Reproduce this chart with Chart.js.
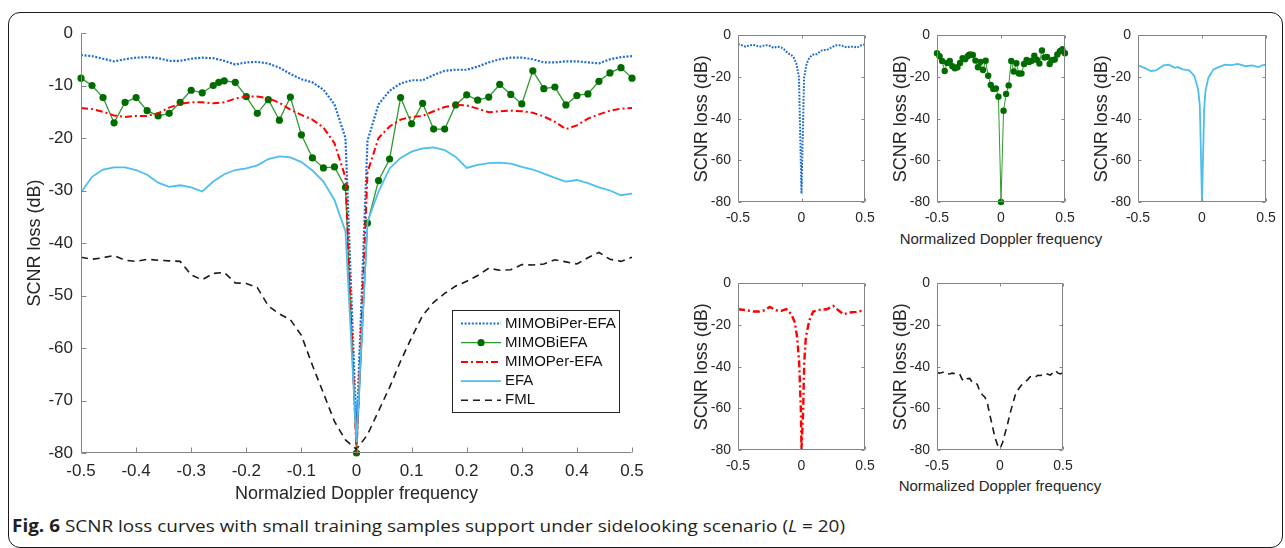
<!DOCTYPE html>
<html>
<head>
<meta charset="utf-8">
<title>SCNR loss curves</title>
<script src="https://cdn.jsdelivr.net/npm/chart.js@4.4.0/dist/chart.umd.min.js"></script>
<style>
  body { margin: 0; background: #fff; width: 1285px; height: 548px; position: relative; overflow: hidden; }
  #frame { position: absolute; left: 8px; top: 12px; width: 1275px; height: 536px; border: 1.5px solid #1a1a1a; border-radius: 12px; box-sizing: border-box; }
  canvas { position: absolute; }
  .xlab { position: absolute; width: 300px; text-align: center; font-family: 'Liberation Sans', Arial, sans-serif; font-size: 15px; line-height: 18px; color: #262626; white-space: nowrap; }
  #caption { position: absolute; left: 12px; top: 515px; font-family: 'Open Sans', sans-serif; font-size: 17px; line-height: 22px; color: #231f20; white-space: nowrap; transform-origin: 0 0; }
</style>
</head>
<body>
<div id="frame"></div>
<div class="xlab" style="left:851px; top:230px;">Normalized Doppler frequency</div>
<div class="xlab" style="left:850px; top:477px;">Normalized Doppler frequency</div>
<div id="caption"><b>Fig. 6</b> SCNR loss curves with small training samples support under sidelooking scenario (<i>L</i> = 20)</div>

<script>
  // tick values and labels
  const mainXTicks = [-0.5, -0.4, -0.3, -0.2, -0.1, 0, 0.1, 0.2, 0.3, 0.4, 0.5];
  const mainXLabels = ['-0.5', '-0.4', '-0.3', '-0.2', '-0.1', '0', '0.1', '0.2', '0.3', '0.4', '0.5'];
  const mainYTicks = [0, -10, -20, -30, -40, -50, -60, -70, -80];
  const mainYLabels = ['0', '-10', '-20', '-30', '-40', '-50', '-60', '-70', '-80'];
  const smallXTicks = [-0.5, 0, 0.5];
  const smallXLabels = ['-0.5', '0', '0.5'];
  const smallYTicks = [0, -20, -40, -60, -80];
  const smallYLabels = ['0', '-20', '-40', '-60', '-80'];

  const seriesNames = ['MIMOBiPer-EFA', 'MIMOBiEFA', 'MIMOPer-EFA', 'EFA', 'FML'];

  // normalized doppler frequency grid of the main curves
  const freq = [-0.5, -0.48, -0.46, -0.44, -0.42, -0.4, -0.38, -0.36, -0.34, -0.32,
    -0.3, -0.28, -0.26, -0.24, -0.22, -0.2, -0.18, -0.16, -0.14, -0.12,
    -0.1, -0.08, -0.06, -0.04, -0.02, 0, 0.02, 0.04, 0.06, 0.08,
    0.1, 0.12, 0.14, 0.16, 0.18, 0.2, 0.22, 0.24, 0.26, 0.28,
    0.3, 0.32, 0.34, 0.36, 0.38, 0.4, 0.42, 0.44, 0.46, 0.48, 0.5];

  const biPerEfa = [-4.2, -4.4, -4.9, -5.4, -5.0, -4.7, -4.6, -4.8, -5.3, -5.3,
    -4.9, -4.7, -4.8, -5.3, -6.0, -5.6, -5.5, -5.8, -6.6, -7.8,
    -8.8, -9.4, -10.8, -13.6, -20.0, -76, -20.5, -13.6, -11.0, -9.6,
    -9.0, -9.0, -8.0, -7.2, -7.0, -7.0, -6.4, -5.6, -5.0, -4.7,
    -4.7, -5.0, -5.6, -5.6, -5.4, -5.4, -5.6, -5.8, -5.0, -4.6, -4.4];

  const perEfa = [-14.3, -14.5, -15.0, -15.7, -16.0, -15.8, -15.8, -15.3, -14.2, -13.5,
    -13.2, -13.2, -13.4, -13.2, -12.5, -12.1, -12.1, -12.4, -13.3, -14.6,
    -15.6, -16.5, -18.0, -21.0, -27.5, -80, -26.5, -20.0, -17.8, -16.5,
    -16.0, -15.8, -14.9, -14.1, -13.7, -13.8, -14.4, -15.1, -14.9, -14.8,
    -14.9, -15.2, -15.9, -16.9, -18.3, -17.6, -16.3, -15.5, -14.8, -14.4, -14.3];

  const efa = [-30.4, -27.4, -26.0, -25.6, -25.6, -26.1, -27.0, -28.5, -29.3, -29.0,
    -29.4, -30.2, -28.3, -26.9, -26.1, -25.8, -25.2, -24.0, -23.5, -23.7,
    -24.6, -26.2, -28.3, -31.8, -37.8, -78, -36.0, -30.2, -25.8, -23.8,
    -22.6, -22.0, -21.8, -22.3, -23.6, -25.7, -25.1, -24.8, -24.7, -24.9,
    -25.5, -26.0, -26.8, -27.6, -28.3, -28.0, -28.6, -29.4, -30.0, -30.9, -30.6];

  const fml = [-42.7, -43.1, -42.8, -42.4, -43.3, -43.5, -43.1, -43.3, -43.4, -43.5,
    -46.1, -47.0, -45.8, -45.6, -47.6, -47.7, -48.5, -52.0, -53.5, -54.6,
    -57.6, -63.3, -68.6, -74.0, -77.5, -79.3, -76.5, -72.0, -67.5, -62.5,
    -58.0, -53.8, -51.3, -49.6, -48.2, -47.3, -46.2, -44.8, -45.2, -45.1,
    -44.1, -44.2, -44.0, -43.2, -43.6, -44.0, -42.8, -41.8, -43.1, -43.5, -42.7];

  // MIMOBiEFA markers
  const biEfaFreq = [-0.5, -0.48, -0.46, -0.44, -0.42, -0.4, -0.38, -0.36, -0.34, -0.32,
    -0.3, -0.28, -0.26, -0.25, -0.24, -0.22, -0.2, -0.18, -0.16, -0.14,
    -0.12, -0.1, -0.08, -0.06, -0.04, -0.02, 0, 0.02, 0.04, 0.06,
    0.08, 0.1, 0.12, 0.14, 0.16, 0.18, 0.2, 0.22, 0.24, 0.26,
    0.28, 0.3, 0.32, 0.34, 0.36, 0.38, 0.4, 0.42, 0.44, 0.46, 0.48, 0.5];
  const biEfa = [-8.6, -10.0, -12.3, -17.1, -13.2, -12.3, -14.8, -15.8, -15.3, -13.2,
    -10.9, -11.4, -10.0, -9.4, -9.1, -9.4, -12.1, -15.3, -12.7, -16.6,
    -12.2, -19.4, -23.8, -25.7, -25.5, -29.4, -80, -36.2, -28.1, -24.0,
    -12.3, -17.3, -13.4, -18.3, -18.3, -13.7, -11.8, -12.8, -12.2, -9.8,
    -11.7, -13.5, -7.2, -10.6, -10.3, -13.7, -11.9, -11.6, -9.2, -7.6, -6.6, -8.6];

  // small EFA panel
  const efaSmallFreq = [-0.5, -0.45, -0.4, -0.36, -0.3, -0.26, -0.21, -0.19, -0.15, -0.1,
    -0.06, -0.03, -0.017, 0, 0.017, 0.027, 0.05, 0.09, 0.13, 0.18,
    0.23, 0.28, 0.34, 0.39, 0.44, 0.47, 0.5];
  const efaSmall = [-14.4, -15.6, -17.1, -16.8, -14.4, -14.1, -15.6, -15.2, -16.3, -16.8,
    -19.5, -25.9, -33.8, -79.8, -35.4, -26.7, -20.3, -16.3, -15.2, -14.0,
    -14.3, -13.7, -14.8, -14.4, -15.2, -14.4, -14.0];

  // small MIMOPer-EFA panel
  const perEfaSmallFreq = [-0.5, -0.43, -0.38, -0.33, -0.29, -0.25, -0.2, -0.16, -0.12, -0.08,
    -0.053, -0.034, -0.018, -0.005, 0, 0.013, 0.021, 0.034, 0.061, 0.092,
    0.145, 0.2, 0.25, 0.29, 0.33, 0.38, 0.43, 0.5];
  const perEfaSmall = [-12.4, -12.9, -13.5, -13.5, -12.9, -11.3, -12.9, -13.2, -12.4, -14.8,
    -18.7, -25.9, -38.6, -60.8, -80, -60.8, -38.6, -25.9, -17.9, -13.5,
    -12.7, -12.4, -10.8, -12.9, -14.8, -14.0, -13.7, -12.9];

  const FONT = "'Liberation Sans', Arial, Helvetica, sans-serif";
  const TEXT = '#262626';
  const AXIS = '#858585';

  function pts(xs, ys) {
    return xs.map((v, i) => ({ x: v, y: ys[i] }));
  }

  const look = {
    biPer: { borderColor: '#1c6ed3', borderWidth: 2.2, borderDash: [2, 1.6], pointRadius: 0, order: 5 },
    bi: { borderColor: '#2e9a2e', borderWidth: 1.3, pointRadius: 3.6, pointBackgroundColor: '#006c00', pointBorderColor: '#006c00', pointBorderWidth: 0, clip: false, order: 4 },
    per: { borderColor: '#ff0000', borderWidth: 2, borderDash: [7, 3, 2, 3], pointRadius: 0, order: 3 },
    efa: { borderColor: '#4dbeee', borderWidth: 1.8, pointRadius: 0, order: 2 },
    fml: { borderColor: '#1a1a1a', borderWidth: 1.6, borderDash: [7, 5], pointRadius: 0, order: 1 }
  };

  // axis lines and inward tick marks, matlab style
  const axesDecor = {
    id: 'axesDecor',
    afterDatasetsDraw(chart, args, o) {
      const { ctx, chartArea: a, scales: { x, y } } = chart;
      ctx.save();
      ctx.strokeStyle = AXIS;
      ctx.lineWidth = 1;
      ctx.setLineDash([]);
      ctx.beginPath();
      const L = Math.round(a.left) + 0.5, R = Math.round(a.right) - 0.5;
      const T = Math.round(a.top) + 0.5, B = Math.round(a.bottom) - 0.5;
      ctx.moveTo(L, T); ctx.lineTo(L, B); ctx.lineTo(R, B);
      if (o.box) { ctx.lineTo(R, T); ctx.lineTo(L, T); }
      x.ticks.forEach(t => {
        const px = Math.round(x.getPixelForValue(t.value)) + 0.5;
        ctx.moveTo(px, B); ctx.lineTo(px, B - o.len);
        if (o.box) { ctx.moveTo(px, T); ctx.lineTo(px, T + o.len); }
      });
      y.ticks.forEach(t => {
        const py = Math.round(y.getPixelForValue(t.value)) + 0.5;
        ctx.moveTo(L, py); ctx.lineTo(L + o.len, py);
        if (o.box) { ctx.moveTo(R, py); ctx.lineTo(R - o.len, py); }
      });
      ctx.stroke();
      ctx.restore();
    }
  };

  const legendBox = {
    id: 'legendBox',
    afterDraw(chart, args, o) {
      if (!o.show) return;
      const ctx = chart.ctx;
      ctx.save();
      ctx.fillStyle = '#fff';
      ctx.fillRect(o.x, o.y, o.w, o.h);
      ctx.strokeStyle = '#222';
      ctx.lineWidth = 1;
      ctx.strokeRect(o.x + 0.5, o.y + 0.5, o.w, o.h);
      chart.data.datasets.forEach((ds, i) => {
        const yy = o.y + o.first + i * o.step;
        ctx.beginPath();
        ctx.setLineDash(ds.borderDash || []);
        ctx.strokeStyle = ds.borderColor;
        ctx.lineWidth = ds.borderWidth;
        ctx.moveTo(o.x + 9, yy);
        ctx.lineTo(o.x + 49, yy);
        ctx.stroke();
        if (ds.pointRadius > 0) {
          ctx.setLineDash([]);
          ctx.fillStyle = ds.pointBackgroundColor;
          ctx.beginPath();
          ctx.arc(o.x + 29, yy, ds.pointRadius, 0, Math.PI * 2);
          ctx.fill();
        }
        ctx.fillStyle = '#111';
        ctx.font = '15px ' + FONT;
        ctx.textBaseline = 'middle';
        ctx.fillText(ds.label, o.x + 53, yy);
      });
      ctx.restore();
    }
  };

  function addChart(p) {
    const cv = document.createElement('canvas');
    const w = p.plot.r - p.plot.l + p.yW + p.padR;
    const h = p.plot.b - p.plot.t + p.padT + p.xH;
    cv.width = w; cv.height = h;
    cv.style.left = (p.plot.l - p.yW) + 'px';
    cv.style.top = (p.plot.t - p.padT) + 'px';
    cv.style.width = w + 'px'; cv.style.height = h + 'px';
    document.body.appendChild(cv);

    return new Chart(cv, {
      type: 'line',
      data: { datasets: p.datasets },
      options: {
        responsive: false,
        animation: false,
        layout: { padding: { top: p.padT, right: p.padR, left: 0, bottom: 0 } },
        elements: { line: { tension: 0 } },
        plugins: {
          legend: { display: false },
          tooltip: { enabled: false },
          axesDecor: { box: p.box, len: p.tickLen },
          legendBox: p.legend || { show: false }
        },
        scales: {
          x: {
            type: 'linear', min: -0.5, max: 0.5,
            afterBuildTicks: s => { s.ticks = p.xTicks.map(v => ({ value: v })); },
            afterFit: s => { s.height = p.xH; },
            grid: { display: false, drawTicks: false },
            border: { display: false },
            ticks: {
              padding: p.xPad, color: TEXT, autoSkip: false, maxRotation: 0,
              font: { size: p.tickSize, family: FONT },
              callback: (v, i) => p.xLabels[i]
            },
            title: {
              display: !!p.xTitle, text: p.xTitle || '', color: TEXT,
              font: { size: p.xTitleSize, family: FONT },
              padding: { top: 0, bottom: p.xTitlePad }
            }
          },
          y: {
            type: 'linear', min: -80, max: 0,
            afterBuildTicks: s => { s.ticks = p.yTicks.map(v => ({ value: v })); },
            afterFit: s => { s.width = p.yW; },
            grid: { display: false, drawTicks: false },
            border: { display: false },
            ticks: {
              padding: p.yPad, color: TEXT,
              font: { size: p.tickSize, family: FONT },
              callback: (v, i) => p.yLabels[i]
            },
            title: {
              display: true, text: 'SCNR loss (dB)', color: TEXT,
              font: { size: p.yTitleSize, family: FONT },
              padding: { top: p.yTitlePad, bottom: 0 }
            }
          }
        }
      },
      plugins: [axesDecor, legendBox]
    });
  }

  // main chart
  addChart({
    plot: { l: 81, t: 33, r: 632, b: 453 },
    yW: 81, padT: 33, padR: 28, xH: 57,
    box: false, tickLen: 5,
    xTicks: mainXTicks, xLabels: mainXLabels, yTicks: mainYTicks, yLabels: mainYLabels,
    tickSize: 17, xPad: 8, yPad: 8,
    xTitle: 'Normalzied Doppler frequency', xTitleSize: 18, xTitlePad: 5,
    yTitleSize: 18, yTitlePad: 24,
    legend: { show: true, x: 452, y: 310, w: 167, h: 102, first: 13.5, step: 19.2 },
    datasets: [
      Object.assign({ label: seriesNames[0], data: pts(freq, biPerEfa) }, look.biPer),
      Object.assign({ label: seriesNames[1], data: pts(biEfaFreq, biEfa) }, look.bi),
      Object.assign({ label: seriesNames[2], data: pts(freq, perEfa) }, look.per),
      Object.assign({ label: seriesNames[3], data: pts(freq, efa) }, look.efa),
      Object.assign({ label: seriesNames[4], data: pts(freq, fml) }, look.fml)
    ]
  });

  // small panels (their x titles are html text above)
  const smallCommon = {
    yW: 50, padT: 14, padR: 18, xH: 30,
    box: true, tickLen: 3,
    xTicks: smallXTicks, xLabels: smallXLabels, yTicks: smallYTicks, yLabels: smallYLabels,
    tickSize: 14, xPad: 8, yPad: 7,
    yTitleSize: 18, yTitlePad: 3
  };

  const panels = [
    { plot: { l: 738, t: 34, r: 865, b: 202 },
      datasets: [Object.assign({ label: seriesNames[0], data: pts(freq, biPerEfa) }, look.biPer, { borderWidth: 2, borderDash: [1.8, 1.4] })] },
    { plot: { l: 937, t: 34, r: 1065, b: 202 },
      datasets: [Object.assign({ label: seriesNames[1], data: pts(biEfaFreq, biEfa) }, look.bi, { pointRadius: 3.2, borderWidth: 1 })] },
    { plot: { l: 1138, t: 34, r: 1266, b: 202 },
      datasets: [Object.assign({ label: seriesNames[3], data: pts(efaSmallFreq, efaSmall) }, look.efa)] },
    { plot: { l: 738, t: 282, r: 865, b: 450 },
      datasets: [Object.assign({ label: seriesNames[2], data: pts(perEfaSmallFreq, perEfaSmall) }, look.per, { borderWidth: 2.4 })] },
    { plot: { l: 937, t: 282, r: 1063, b: 450 },
      datasets: [Object.assign({ label: seriesNames[4], data: pts(freq, fml) }, look.fml)] }
  ];
  panels.forEach(pn => addChart(Object.assign({}, smallCommon, pn)));

  // fit caption width to the reference line length
  const cap = document.getElementById('caption');
  const capW = cap.getBoundingClientRect().width;
  cap.style.transform = 'scaleX(' + (833 / capW) + ')';
</script>
</body>
</html>
